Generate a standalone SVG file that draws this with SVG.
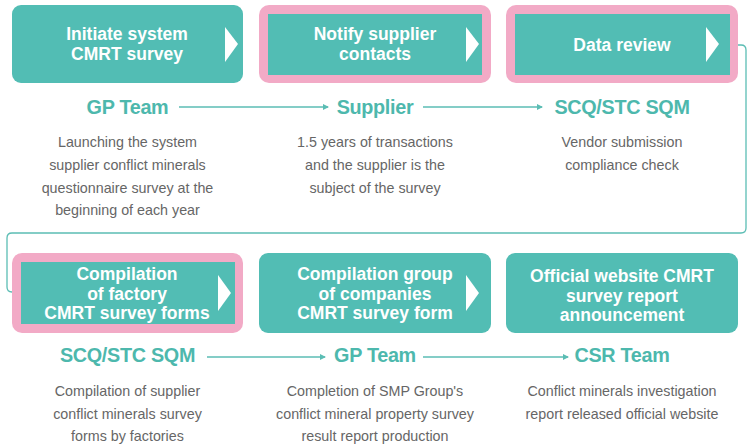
<svg xmlns="http://www.w3.org/2000/svg" width="756" height="447" viewBox="0 0 756 447">
<defs>
<style>
.box{fill:#52bdb4;}
.pink{fill:#f2aac6;}
.tri{fill:#ffffff;}
.bt{font-family:"Liberation Sans",Arial,sans-serif;font-weight:bold;font-size:17.5px;fill:#ffffff;text-anchor:middle;}
.lb{font-family:"Liberation Sans",Arial,sans-serif;font-weight:bold;font-size:19.8px;fill:#4db8ad;text-anchor:middle;letter-spacing:-0.3px;}
.ds{font-family:"Liberation Sans",Arial,sans-serif;font-size:14.3px;fill:#666666;text-anchor:middle;}
.ln{fill:none;stroke:#5bbdb4;stroke-width:1.3;}
</style>
<marker id="ah" markerWidth="6" markerHeight="6" refX="5" refY="3" orient="auto" markerUnits="userSpaceOnUse">
<path d="M0,0 L6,3 L0,6 Z" fill="#5bbdb4"/>
</marker>
</defs>
<rect width="756" height="447" fill="#ffffff"/>

<g id="connectors">
<path class="ln" d="M179,107 H328" marker-end="url(#ah)"/>
<path class="ln" d="M423,107 H542" marker-end="url(#ah)"/>
<path class="ln" d="M738,45 H741 Q746,45 746,50 V228 Q746,233 741,233 H12 Q7,233 7,238 V287 Q7,292 12,292"/>
<path class="ln" d="M207,357 H325" marker-end="url(#ah)"/>
<path class="ln" d="M423,357 H568" marker-end="url(#ah)"/>
</g>

<g id="node1">
<rect class="box" x="12" y="5" width="231" height="78" rx="9"/>
<path class="tri" d="M225,27 L238,44 L225,62 Z"/>
<text class="bt" x="127" y="40">Initiate system</text>
<text class="bt" x="127" y="60">CMRT survey</text>
<text class="lb" x="127.5" y="114">GP Team</text>
<text class="ds" x="127.5" y="147">Launching the system</text>
<text class="ds" x="127.5" y="170">supplier conflict minerals</text>
<text class="ds" x="127.5" y="193">questionnaire survey at the</text>
<text class="ds" x="127.5" y="215">beginning of each year</text>
</g>

<g id="node2">
<rect class="pink" x="259" y="5" width="232" height="78" rx="10"/>
<rect class="box" x="268" y="14" width="214" height="61"/>
<path class="tri" d="M466,27 L479,44 L466,62 Z"/>
<text class="bt" x="375" y="40">Notify supplier</text>
<text class="bt" x="375" y="60">contacts</text>
<text class="lb" x="375" y="114">Supplier</text>
<text class="ds" x="375" y="147">1.5 years of transactions</text>
<text class="ds" x="375" y="170">and the supplier is the</text>
<text class="ds" x="375" y="193">subject of the survey</text>
</g>

<g id="node3">
<rect class="pink" x="506" y="5" width="232" height="78" rx="10"/>
<rect class="box" x="515" y="14" width="215" height="61"/>
<path class="tri" d="M706,27 L719,44 L706,62 Z"/>
<text class="bt" x="622" y="51">Data review</text>
<text class="lb" x="622" y="114">SCQ/STC SQM</text>
<text class="ds" x="622" y="147">Vendor submission</text>
<text class="ds" x="622" y="170">compliance check</text>
</g>

<g id="node4">
<rect class="pink" x="12" y="253" width="231" height="80" rx="10"/>
<rect class="box" x="21" y="262" width="214" height="62"/>
<path class="tri" d="M218,275 L231,293 L218,311 Z"/>
<text class="bt" x="127" y="280">Compilation</text>
<text class="bt" x="127" y="300">of factory</text>
<text class="bt" x="127" y="319">CMRT survey forms</text>
<text class="lb" x="127.5" y="362">SCQ/STC SQM</text>
<text class="ds" x="127.5" y="396">Compilation of supplier</text>
<text class="ds" x="127.5" y="419">conflict minerals survey</text>
<text class="ds" x="127.5" y="441">forms by factories</text>
</g>

<g id="node5">
<rect class="box" x="259" y="253" width="232" height="80" rx="9"/>
<path class="tri" d="M466,275 L479,293 L466,311 Z"/>
<text class="bt" x="375" y="280">Compilation group</text>
<text class="bt" x="375" y="300">of companies</text>
<text class="bt" x="375" y="319">CMRT survey form</text>
<text class="lb" x="375" y="362">GP Team</text>
<text class="ds" x="375" y="396">Completion of SMP Group's</text>
<text class="ds" x="375" y="419">conflict mineral property survey</text>
<text class="ds" x="375" y="441">result report production</text>
</g>

<g id="node6">
<rect class="box" x="506" y="253" width="232" height="80" rx="9"/>
<text class="bt" x="622" y="282">Official website CMRT</text>
<text class="bt" x="622" y="302">survey report</text>
<text class="bt" x="622" y="321">announcement</text>
<text class="lb" x="622" y="362">CSR Team</text>
<text class="ds" x="622" y="396">Conflict minerals investigation</text>
<text class="ds" x="622" y="419">report released official website</text>
</g>
</svg>
